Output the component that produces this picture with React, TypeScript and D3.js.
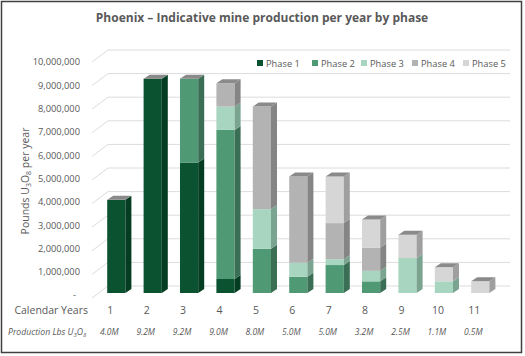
import React from "react";
import * as d3 from "d3";

const years = ["1", "2", "3", "4", "5", "6", "7", "8", "9", "10", "11"];
const phases = ["Phase 1", "Phase 2", "Phase 3", "Phase 4", "Phase 5"];
// values in millions of lbs
const phase1 = [4.0, 9.2, 5.6, 0.6, 0, 0, 0, 0, 0, 0, 0];
const phase2 = [0, 0, 3.6, 6.4, 1.9, 0.7, 1.2, 0.5, 0, 0, 0];
const phase3 = [0, 0, 0, 1.0, 1.7, 0.6, 0.25, 0.45, 1.5, 0.5, 0];
const phase4 = [0, 0, 0, 1.0, 4.4, 3.7, 1.55, 1.0, 0, 0, 0];
const phase5 = [0, 0, 0, 0, 0, 0, 2.0, 1.2, 1.0, 0.6, 0.5];
const productionLabels = ["4.0M", "9.2M", "9.2M", "9.0M", "8.0M", "5.0M", "5.0M", "3.2M", "2.5M", "1.1M", "0.5M"];
const yTicks = [0, 1, 2, 3, 4, 5, 6, 7, 8, 9, 10];

const frontColors = ["#0a5230", "#4f9a75", "#a8d5bf", "#b3b3b3", "#d6d6d6"];
const sideColors = ["#053d22", "#3b6f55", "#7aa390", "#858585", "#9f9f9f"];
const topColor = "#8a8a8a";

const FONT = "'Open Sans', 'DejaVu Sans', sans-serif";
const TXT = "#595959";

export default function App() {
  const series = [phase1, phase2, phase3, phase4, phase5];
  const rows = years.map((y, i) => {
    const o: any = { year: y };
    phases.forEach((p, k) => (o[p] = series[k][i]));
    return o;
  });
  const stacked = d3.stack().keys(phases)(rows);

  const x = d3.scaleBand().domain(years).range([89, 507.6]).paddingInner(0.5).paddingOuter(0.5);
  const yF = d3.scaleLinear().domain([0, 10]).range([293, 60]);
  const yB = d3.scaleLinear().domain([0, 10]).range([286, 50]);
  const bw = x.bandwidth();
  const dx = 6, dy = -4;

  const totals = years.map((_, i) => series.reduce((s, a) => s + a[i], 0));
  const fmt = d3.format(",");

  return (
    <svg width={525} height={356} style={{ position: "absolute", left: 0, top: 0, background: "#fff" }}>
      <rect x={1.5} y={1.5} width={520} height={351} fill="#fff" stroke="#404040" strokeWidth={1.5} />
      <text x={262} y={21.5} textAnchor="middle" fontFamily={FONT} fontSize={12} fontWeight="bold" fill={TXT}>
        Phoenix – Indicative mine production per year by phase
      </text>
      {/* gridlines */}
      {yTicks.map((t) => (
        <g key={t}>
          <line x1={108} x2={510} y1={yB(t)} y2={yB(t)} stroke="#dcdcdc" strokeWidth={1} />
          <line x1={92} x2={108} y1={yB(t) + 12} y2={yB(t)} stroke="#dcdcdc" strokeWidth={1} />
          <text x={t === 0 ? 76 : 80} y={yF(t) + 3} textAnchor="end" dominantBaseline="middle" fontFamily={FONT} fontSize={9.3} fill={TXT}>
            {t === 0 ? "-" : fmt(t * 1000000)}
          </text>
        </g>
      ))}
      {/* y axis title */}
      <text transform="translate(29,181) rotate(-90)" textAnchor="middle" fontFamily={FONT} fontSize={10.5} fill={TXT}>
        Pounds U<tspan fontSize={7} dy={2}>3</tspan><tspan dy={-2}>O</tspan><tspan fontSize={7} dy={2}>8</tspan><tspan dy={-2}> per year</tspan>
      </text>
      {/* legend */}
      {phases.map((p, k) => {
        const lx = [257, 312, 361, 412, 463][k];
        return (
          <g key={p}>
            <rect x={lx} y={60} width={6} height={6} fill={frontColors[k]} />
            <text x={lx + 9} y={66.5} fontFamily={FONT} fontSize={9.3} fill={TXT}>{p}</text>
          </g>
        );
      })}
      {/* bars */}
      {years.map((yr, i) => {
        const x0 = x(yr) as number;
        const segs = stacked.map((s, k) => ({ k, y0: s[i][0], y1: s[i][1] })).filter((s) => s.y1 - s.y0 > 0);
        const total = totals[i];
        return (
          <g key={yr}>
            {segs.map((s) => {
              const top = yF(s.y1), bot = yF(s.y0);
              return (
                <g key={s.k}>
                  <rect x={x0} y={top} width={bw} height={bot - top} fill={frontColors[s.k]} />
                  <path
                    d={`M${x0 + bw},${top}L${x0 + bw + dx},${top + dy}L${x0 + bw + dx},${bot + dy}L${x0 + bw},${bot}Z`}
                    fill={sideColors[s.k]}
                  />
                </g>
              );
            })}
            <path
              d={`M${x0},${yF(total)}L${x0 + dx},${yF(total) + dy}L${x0 + bw + dx},${yF(total) + dy}L${x0 + bw},${yF(total)}Z`}
              fill={topColor}
            />
          </g>
        );
      })}
      {/* x labels */}
      {years.map((yr, i) => {
        const cx = (x(yr) as number) + bw / 2 - 6;
        return (
          <g key={yr}>
            <text x={cx} y={314} textAnchor="middle" fontFamily={FONT} fontSize={10.5} fill={TXT}>{yr}</text>
            <text x={cx - 1} y={335} textAnchor="middle" fontFamily={FONT} fontSize={8.5} fontStyle="italic" fill={TXT}>
              {productionLabels[i]}
            </text>
          </g>
        );
      })}
      <text x={88} y={314} textAnchor="end" fontFamily={FONT} fontSize={10.5} fill={TXT}>Calendar Years</text>
      <text x={8} y={335} fontFamily={FONT} fontSize={8.7} fontStyle="italic" fill={TXT}>
        Production Lbs U<tspan fontSize={6} dy={2}>3</tspan><tspan dy={-2}>O</tspan><tspan fontSize={6} dy={2}>8</tspan>
      </text>
    </svg>
  );
}
